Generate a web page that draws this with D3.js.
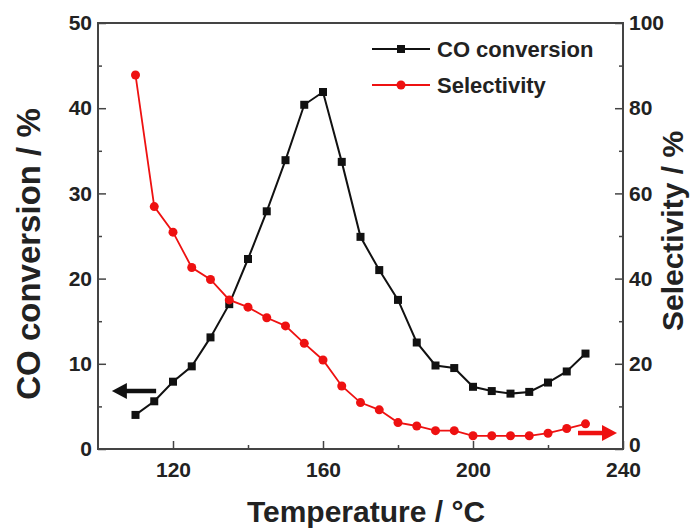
<!DOCTYPE html>
<html>
<head>
<meta charset="utf-8">
<script src="https://cdnjs.cloudflare.com/ajax/libs/d3/7.8.5/d3.min.js"></script>
<style>
  body { margin: 0; background: #fff; }
  svg text { font-family: "Liberation Sans", Arial, sans-serif; font-weight: bold; fill: #222; }
</style>
</head>
<body>
<div id="chart"></div>
<script>
const temps = [110, 115, 120, 125, 130, 135, 140, 145, 150, 155, 160, 165, 170,
  175, 180, 185, 190, 195, 200, 205, 210, 215, 220, 225, 230];
const coConversion = [4.0, 5.6, 7.9, 9.7, 13.1, 17.0, 22.3, 27.9, 33.9, 40.4, 41.9, 33.7, 24.9,
  21.0, 17.5, 12.5, 9.8, 9.5, 7.3, 6.8, 6.5, 6.7, 7.8, 9.1, 11.2];
const selectivity = [87.8, 56.9, 50.9, 42.6, 39.8, 35.0, 33.3, 30.8, 28.9, 24.8, 20.9, 14.8, 10.9,
  9.2, 6.2, 5.4, 4.3, 4.3, 3.1, 3.1, 3.1, 3.1, 3.7, 4.8, 5.9];

const xMajor = [120, 160, 200, 240];
const xMinor = [140, 180, 220];
const yLeftMajor = [0, 10, 20, 30, 40, 50];
const yLeftMinor = [5, 15, 25, 35, 45];
const yRightMajor = [0, 20, 40, 60, 80, 100];
const yRightMinor = [10, 30, 50, 70, 90];

// arrows telling which axis each curve belongs to (data coords)
const leftArrow = { from: [115.5, 6.8], to: [103.7, 6.8] };   // left axis
const rightArrow = { from: [228, 3.75], to: [238.4, 3.75] };  // right axis

const black = "#111";
const red = "#ee1111";
const axisColor = "#444";

const W = 691, H = 530;
const margin = { top: 23, right: 68, bottom: 81, left: 98 };
const width = W - margin.left - margin.right;
const height = H - margin.top - margin.bottom;

const svg = d3.select("#chart").append("svg")
  .attr("width", W).attr("height", H);
const g = svg.append("g").attr("transform", `translate(${margin.left},${margin.top})`);

const x = d3.scaleLinear().domain([100, 240]).range([0, width]);
const yL = d3.scaleLinear().domain([0, 50]).range([height, 0]);
const yR = d3.scaleLinear().domain([0, 100]).range([height, 0]);

// axes, ticks point inward
function styleAxis(sel) {
  sel.select(".domain").remove();
  sel.selectAll(".tick line").attr("stroke", axisColor).attr("stroke-width", 1.5);
  sel.selectAll(".tick text").style("font-size", "21px").attr("fill", "#222");
}

g.append("g").attr("transform", `translate(0,${height})`)
  .call(d3.axisBottom(x).tickValues(xMajor).tickSizeInner(-8).tickSizeOuter(0).tickPadding(13))
  .call(styleAxis);
g.append("g").attr("transform", `translate(0,${height})`)
  .call(d3.axisBottom(x).tickValues(xMinor).tickSizeInner(-4).tickSizeOuter(0).tickFormat(""))
  .call(styleAxis);

g.append("g")
  .call(d3.axisLeft(yL).tickValues(yLeftMajor).tickSizeInner(-8).tickSizeOuter(0).tickPadding(6))
  .call(styleAxis);
g.append("g")
  .call(d3.axisLeft(yL).tickValues(yLeftMinor).tickSizeInner(-4).tickSizeOuter(0).tickFormat(""))
  .call(styleAxis);

const rightAxis = g.append("g").attr("transform", `translate(${width},0)`)
  .call(d3.axisRight(yR).tickValues(yRightMajor).tickSizeInner(-8).tickSizeOuter(0).tickPadding(6))
  .call(styleAxis);
// the "0" sits a touch higher so it clears the "240" below it
rightAxis.selectAll(".tick text").filter(d => d === 0).attr("dy", "0.1em");
g.append("g").attr("transform", `translate(${width},0)`)
  .call(d3.axisRight(yR).tickValues(yRightMinor).tickSizeInner(-4).tickSizeOuter(0).tickFormat(""))
  .call(styleAxis);

// frame
g.append("rect")
  .attr("width", width).attr("height", height)
  .attr("fill", "none").attr("stroke", axisColor).attr("stroke-width", 2);

const coData = temps.map((t, i) => [t, coConversion[i]]);
const selData = temps.map((t, i) => [t, selectivity[i]]);

// CO conversion series
g.append("path").datum(coData)
  .attr("fill", "none").attr("stroke", black).attr("stroke-width", 2)
  .attr("d", d3.line().x(d => x(d[0])).y(d => yL(d[1])));
g.selectAll("rect.co").data(coData).join("rect")
  .attr("class", "co")
  .attr("x", d => x(d[0]) - 4).attr("y", d => yL(d[1]) - 4)
  .attr("width", 8).attr("height", 8).attr("fill", black);

// selectivity series
g.append("path").datum(selData)
  .attr("fill", "none").attr("stroke", red).attr("stroke-width", 1.8)
  .attr("d", d3.line().x(d => x(d[0])).y(d => yR(d[1])));
g.selectAll("circle.sel").data(selData).join("circle")
  .attr("class", "sel")
  .attr("cx", d => x(d[0])).attr("cy", d => yR(d[1]))
  .attr("r", 4.5).attr("fill", red);

// arrows
function drawArrow(a, yScale, color) {
  const x0 = x(a.from[0]), y0 = yScale(a.from[1]);
  const x1 = x(a.to[0]), y1 = yScale(a.to[1]);
  const dir = Math.sign(x1 - x0);
  const head = 15, half = 8;
  g.append("line")
    .attr("x1", x0).attr("y1", y0).attr("x2", x1 - dir * head + dir * 2).attr("y2", y1)
    .attr("stroke", color).attr("stroke-width", 4.5);
  g.append("path")
    .attr("d", `M${x1},${y1}L${x1 - dir * head},${y1 - half}L${x1 - dir * head},${y1 + half}Z`)
    .attr("fill", color);
}
drawArrow(leftArrow, yL, black);
drawArrow(rightArrow, yR, red);

// legend
const legend = [
  { label: "CO conversion", color: black, shape: "square", y: 49 },
  { label: "Selectivity", color: red, shape: "circle", y: 85 }
];
const lg = svg.append("g");
legend.forEach(d => {
  lg.append("line").attr("x1", 372).attr("x2", 430).attr("y1", d.y).attr("y2", d.y)
    .attr("stroke", d.color).attr("stroke-width", 2);
  if (d.shape === "square") {
    lg.append("rect").attr("x", 397).attr("y", d.y - 4).attr("width", 8).attr("height", 8).attr("fill", d.color);
  } else {
    lg.append("circle").attr("cx", 401).attr("cy", d.y).attr("r", 4.5).attr("fill", d.color);
  }
  lg.append("text").attr("x", 437).attr("y", d.y + 7.5)
    .style("font-size", "22px").text(d.label);
});

// axis titles
svg.append("text")
  .attr("transform", "translate(40,254) rotate(-90)")
  .attr("text-anchor", "middle").style("font-size", "33px")
  .text("CO conversion / %");
svg.append("text")
  .attr("transform", "translate(683,231) rotate(-90)")
  .attr("text-anchor", "middle").style("font-size", "30px")
  .text("Selectivity / %");
svg.append("text")
  .attr("x", 366).attr("y", 522)
  .attr("text-anchor", "middle").style("font-size", "30px")
  .text("Temperature / °C");
</script>
</body>
</html>
